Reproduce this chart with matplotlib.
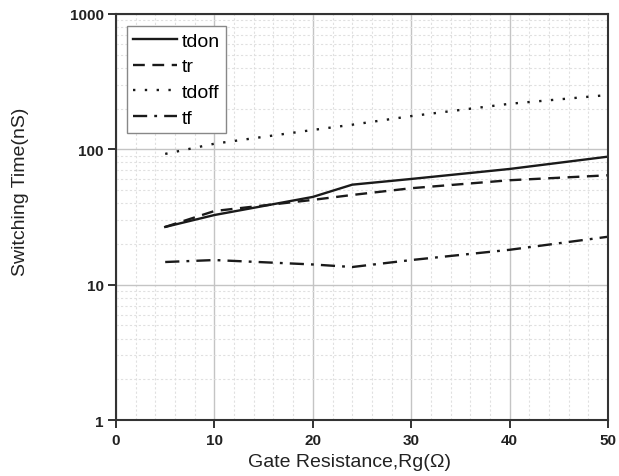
import matplotlib
matplotlib.use("Agg")
import matplotlib.pyplot as plt
from matplotlib.ticker import FixedLocator, NullFormatter

plt.rcParams['font.family'] = ['Liberation Sans', 'DejaVu Sans']

# data
rg = [5, 10, 20, 24, 30, 40, 50]
tdon = [26.7, 32.7, 44.5, 54.8, 60.4, 71.6, 88.3]
tr = [26.7, 35.0, 42.3, 46.0, 51.6, 59.1, 64.3]
tdoff = [92.5, 110, 139, 152, 176, 217, 252]
tf = [14.7, 15.2, 14.1, 13.5, 15.2, 18.1, 22.6]

fig = plt.figure(figsize=(6.19, 4.77), dpi=100)
ax = fig.add_axes([0.1874, 0.1174, 0.795, 0.8512])

lc = '#1a1a1a'
ax.plot(rg, tdon, color=lc, lw=1.7, ls='-', label='tdon')
ax.plot(rg, tr, color=lc, lw=1.7, ls=(0, (5, 3.2)), label='tr')
ax.plot(rg, tdoff, color=lc, lw=1.7, ls=(0, (1, 4)), label='tdoff')
ax.plot(rg, tf, color=lc, lw=1.7, ls=(0, (6, 3, 1.2, 3)), label='tf')

ax.set_yscale('log')
ax.set_xlim(0, 50)
ax.set_ylim(1, 1000)
ax.set_xticks([0, 10, 20, 30, 40, 50])
ax.xaxis.set_minor_locator(FixedLocator([x for x in range(0, 51, 2) if x % 10]))
ax.set_yticks([1, 10, 100, 1000])
ax.set_yticklabels(['1', '10', '100', '1000'])
ax.yaxis.set_minor_formatter(NullFormatter())

ax.grid(which='major', color='#c4c4c4', lw=1.0, ls='-')
ax.grid(which='minor', color='#e0e0e0', lw=0.8, ls=(0, (2, 2)))
ax.set_axisbelow(True)

for s in ax.spines.values():
    s.set_linewidth(1.5)
    s.set_color('#333333')

ax.tick_params(which='major', direction='out', length=6, width=1.3, colors='#222222',
               labelsize=11, pad=3)
ax.tick_params(which='minor', length=0)
for lab in ax.get_xticklabels() + ax.get_yticklabels():
    lab.set_fontweight('bold')

ax.set_xlabel('Gate Resistance,Rg(Ω)', fontsize=14, color='#222222', va='top')
ax.xaxis.set_label_coords(0.4736, -0.082)
ax.set_ylabel('Switching Time(nS)', fontsize=14, color='#222222')
ax.yaxis.set_label_coords(-0.177, 0.564)

leg = ax.legend(loc='upper left', bbox_to_anchor=(0.022, 0.97), fontsize=14,
                frameon=True, fancybox=False, handlelength=2.3, handletextpad=0.25,
                labelspacing=0.42, borderpad=0.3, borderaxespad=0.0)
leg.get_frame().set_edgecolor('#888888')
leg.get_frame().set_linewidth(1.0)
leg.get_frame().set_alpha(1)

fig.savefig('out.png', dpi=100)
